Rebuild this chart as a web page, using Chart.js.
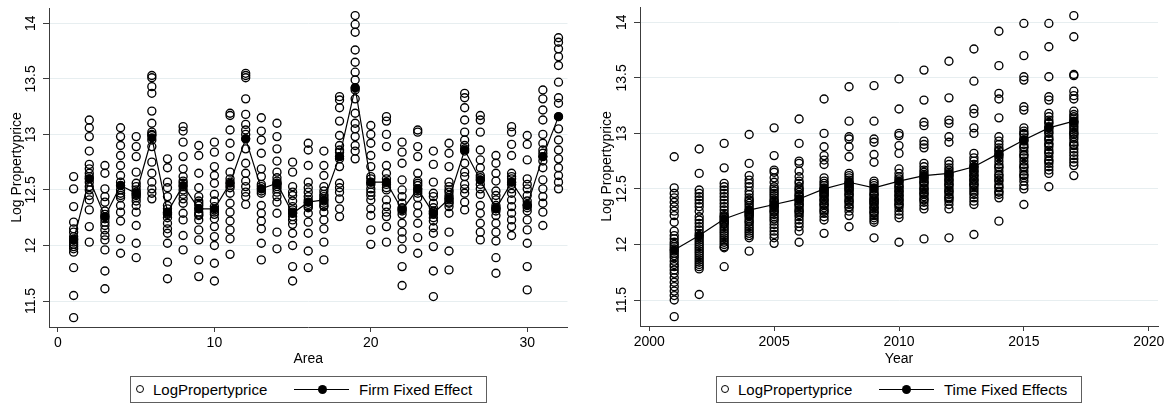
<!DOCTYPE html>
<html>
<head>
<meta charset="utf-8">
<title>Log Propertyprice by Area and Year</title>
<script src="https://cdn.jsdelivr.net/npm/chart.js@4.4.1/dist/chart.umd.min.js"></script>
<style>
  body { margin: 0; background: #fff; width: 1168px; height: 405px; position: relative; overflow: hidden;
         font-family: "Liberation Sans", Arial, Helvetica, sans-serif; }
  canvas { position: absolute; top: 0; }
  #areaChart { left: 0; }
  #yearChart { left: 584px; }
  .legend { position: absolute; top: 376px; height: 27px; box-sizing: border-box; border: 1px solid #5e5e5e;
            font-size: 15px; color: #000; }
  .legend .txt { position: absolute; top: 0; line-height: 25px; white-space: nowrap; }
  .legend .ring { position: absolute; top: 8px; width: 6.4px; height: 6.4px; border: 1.3px solid #000; border-radius: 50%; }
  .legend .seg { position: absolute; top: 12px; height: 1.2px; background: #000; }
  .legend .dot { position: absolute; top: 8px; width: 9px; height: 9px; background: #000; border-radius: 50%; }
</style>
</head>
<body>
<canvas id="areaChart" width="584" height="372"></canvas>
<canvas id="yearChart" width="584" height="372"></canvas>

<div class="legend" style="left:130px; width:357px;">
  <div class="ring" style="left:5px;"></div>
  <div class="txt" style="left:22px;">LogPropertyprice</div>
  <div class="seg" style="left:163px; width:55px;"></div>
  <div class="dot" style="left:187px;"></div>
  <div class="txt" style="left:228px;">Firm Fixed Effect</div>
</div>
<div class="legend" style="left:716px; width:366px;">
  <div class="ring" style="left:4px;"></div>
  <div class="txt" style="left:21px;">LogPropertyprice</div>
  <div class="seg" style="left:162px; width:55px;"></div>
  <div class="dot" style="left:185px;"></div>
  <div class="txt" style="left:227px;">Time Fixed Effects</div>
</div>

<script>
// Categories
const areas = [1, 2, 3, 4, 5, 6, 7, 8, 9, 10, 11, 12, 13, 14, 15, 16,
               17, 18, 19, 20, 21, 22, 23, 24, 25, 26, 27, 28, 29, 30, 31, 32];
const years = [2001, 2002, 2003, 2004, 2005, 2006, 2007, 2008, 2009,
               2010, 2011, 2012, 2013, 2014, 2015, 2016, 2017];

// Log property price observations, one row per area (17 years each)
const areaPrices = [
  [12.62, 12.51, 12.35, 12.21, 12.15, 12.12, 12.08, 12.05, 12.03, 12.01, 11.99, 11.97, 11.94, 11.80, 11.55, 11.35, 12.06],
  [13.13, 13.06, 12.98, 12.85, 12.73, 12.69, 12.65, 12.62, 12.57, 12.53, 12.50, 12.45, 12.41, 12.32, 12.17, 12.03, 12.60],
  [12.72, 12.65, 12.51, 12.44, 12.39, 12.31, 12.28, 12.26, 12.24, 12.21, 12.18, 12.14, 12.09, 12.05, 11.96, 11.77, 11.61],
  [13.06, 12.98, 12.90, 12.81, 12.72, 12.63, 12.57, 12.54, 12.50, 12.47, 12.43, 12.36, 12.30, 12.22, 12.06, 11.93, 12.45],
  [12.98, 12.89, 12.80, 12.66, 12.56, 12.53, 12.50, 12.48, 12.46, 12.43, 12.40, 12.36, 12.30, 12.18, 12.02, 11.89, 12.45],
  [13.53, 13.51, 13.43, 13.37, 13.21, 13.10, 13.02, 12.99, 12.89, 12.75, 12.65, 12.57, 12.51, 12.47, 12.42, 13.00, 12.95],
  [12.78, 12.70, 12.57, 12.52, 12.44, 12.36, 12.33, 12.30, 12.28, 12.25, 12.20, 12.15, 12.11, 12.02, 11.85, 11.70, 12.29],
  [13.07, 13.03, 12.93, 12.80, 12.69, 12.62, 12.56, 12.53, 12.50, 12.46, 12.42, 12.38, 12.29, 12.23, 12.09, 11.96, 12.58],
  [12.90, 12.81, 12.65, 12.52, 12.44, 12.40, 12.36, 12.33, 12.30, 12.27, 12.23, 12.14, 12.05, 11.87, 11.72, 12.38, 12.28],
  [12.93, 12.84, 12.71, 12.63, 12.56, 12.46, 12.40, 12.35, 12.32, 12.30, 12.24, 12.17, 12.08, 12.00, 11.84, 11.68, 12.28],
  [13.19, 13.17, 13.04, 12.92, 12.80, 12.66, 12.60, 12.57, 12.54, 12.52, 12.47, 12.38, 12.30, 12.22, 12.14, 12.06, 11.92],
  [13.55, 13.53, 13.51, 13.32, 13.18, 13.09, 13.04, 13.00, 12.96, 12.87, 12.74, 12.65, 12.58, 12.53, 12.48, 12.44, 12.37],
  [13.15, 13.03, 12.95, 12.83, 12.69, 12.62, 12.55, 12.51, 12.49, 12.47, 12.36, 12.29, 12.22, 12.15, 12.02, 11.87, 12.53],
  [13.10, 12.98, 12.87, 12.76, 12.66, 12.61, 12.58, 12.55, 12.53, 12.51, 12.44, 12.39, 12.29, 12.12, 11.97, 12.56, 12.48],
  [12.75, 12.66, 12.53, 12.45, 12.40, 12.35, 12.32, 12.29, 12.26, 12.23, 12.19, 12.11, 12.00, 11.81, 11.68, 12.48, 12.30],
  [12.92, 12.86, 12.72, 12.57, 12.48, 12.44, 12.41, 12.39, 12.37, 12.34, 12.29, 12.21, 12.11, 11.95, 11.80, 12.52, 12.35],
  [12.85, 12.72, 12.63, 12.53, 12.49, 12.44, 12.42, 12.40, 12.38, 12.35, 12.30, 12.23, 12.15, 12.03, 11.87, 12.46, 12.36],
  [13.34, 13.31, 13.24, 13.12, 12.99, 12.90, 12.84, 12.80, 12.78, 12.71, 12.56, 12.52, 12.48, 12.42, 12.33, 12.26, 12.86],
  [14.07, 13.99, 13.92, 13.76, 13.65, 13.56, 13.49, 13.42, 13.32, 13.19, 13.05, 12.98, 12.90, 12.85, 12.78, 13.40, 13.10],
  [13.08, 13.00, 12.92, 12.81, 12.71, 12.62, 12.57, 12.55, 12.51, 12.48, 12.41, 12.33, 12.27, 12.14, 12.01, 12.60, 12.45],
  [13.16, 13.12, 13.00, 12.89, 12.72, 12.65, 12.60, 12.57, 12.55, 12.50, 12.41, 12.35, 12.30, 12.26, 12.17, 12.03, 12.52],
  [12.93, 12.84, 12.74, 12.59, 12.50, 12.44, 12.38, 12.34, 12.31, 12.28, 12.20, 12.12, 12.06, 11.97, 11.81, 11.64, 12.33],
  [13.04, 13.02, 12.89, 12.80, 12.65, 12.58, 12.54, 12.51, 12.49, 12.43, 12.36, 12.29, 12.20, 12.07, 11.93, 12.56, 12.47],
  [12.85, 12.73, 12.57, 12.44, 12.38, 12.34, 12.31, 12.28, 12.25, 12.22, 12.16, 12.11, 11.99, 11.77, 11.54, 12.47, 12.30],
  [12.92, 12.83, 12.71, 12.57, 12.53, 12.48, 12.45, 12.43, 12.41, 12.38, 12.35, 12.29, 12.12, 11.95, 11.78, 12.50, 12.39],
  [13.37, 13.33, 13.24, 13.13, 13.02, 12.95, 12.90, 12.87, 12.74, 12.66, 12.62, 12.55, 12.51, 12.47, 12.39, 12.32, 12.85],
  [13.17, 13.13, 13.02, 12.86, 12.77, 12.70, 12.63, 12.59, 12.55, 12.51, 12.46, 12.36, 12.29, 12.20, 12.12, 12.05, 12.61],
  [12.81, 12.74, 12.65, 12.49, 12.45, 12.41, 12.36, 12.33, 12.31, 12.27, 12.20, 12.12, 12.04, 11.89, 11.75, 12.58, 12.34],
  [13.07, 13.02, 12.91, 12.81, 12.65, 12.60, 12.57, 12.55, 12.51, 12.47, 12.41, 12.35, 12.29, 12.23, 12.17, 12.09, 12.62],
  [12.99, 12.91, 12.77, 12.60, 12.51, 12.45, 12.40, 12.37, 12.34, 12.31, 12.23, 12.14, 12.02, 11.81, 11.60, 12.55, 12.36],
  [13.40, 13.32, 13.22, 13.13, 13.00, 12.92, 12.86, 12.80, 12.76, 12.70, 12.59, 12.51, 12.44, 12.38, 12.30, 12.18, 12.83],
  [13.87, 13.83, 13.77, 13.70, 13.62, 13.47, 13.33, 13.28, 13.16, 13.05, 12.95, 12.86, 12.78, 12.70, 12.63, 12.57, 12.51]
];
// Firm (area) fixed effect line
const areaEffect = [12.05, 12.60, 12.26, 12.54, 12.47, 12.97, 12.30, 12.54, 12.33, 12.33, 12.56, 12.96, 12.51, 12.56, 12.29, 12.39,
                    12.41, 12.80, 13.42, 12.57, 12.57, 12.32, 12.51, 12.29, 12.42, 12.86, 12.59, 12.33, 12.57, 12.36, 12.80, 13.16];

// Log property price observations, one row per year (32 areas each)
const yearPrices = [
  [12.79, 12.51, 12.46, 12.42, 12.38, 12.34, 12.30, 12.26, 12.20, 12.12, 12.08, 12.05, 12.02, 12.00, 11.98, 11.96,
   11.94, 11.92, 11.90, 11.88, 11.85, 11.82, 11.80, 11.77, 11.74, 11.70, 11.66, 11.62, 11.58, 11.54, 11.50, 11.35],
  [12.86, 12.64, 12.49, 12.46, 12.43, 12.40, 12.37, 12.34, 12.30, 12.25, 12.22, 12.19, 12.16, 12.13, 12.10, 12.08,
   12.06, 12.04, 12.02, 12.00, 11.98, 11.96, 11.94, 11.92, 11.90, 11.88, 11.86, 11.84, 11.82, 11.80, 11.78, 11.55],
  [12.91, 12.69, 12.55, 12.52, 12.49, 12.46, 12.43, 12.40, 12.37, 12.34, 12.31, 12.28, 12.26, 12.24, 12.22, 12.20,
   12.18, 12.16, 12.14, 12.12, 12.10, 12.08, 12.06, 12.04, 12.02, 12.00, 11.98, 12.25, 12.21, 12.19, 11.97, 11.80],
  [12.99, 12.73, 12.62, 12.58, 12.55, 12.52, 12.48, 12.45, 12.42, 12.39, 12.37, 12.35, 12.33, 12.31, 12.29, 12.28,
   12.27, 12.25, 12.23, 12.21, 12.20, 12.18, 12.16, 12.14, 12.12, 12.10, 12.08, 12.06, 12.30, 12.26, 12.40, 11.94],
  [13.05, 12.80, 12.67, 12.65, 12.60, 12.56, 12.52, 12.48, 12.46, 12.44, 12.42, 12.40, 12.38, 12.36, 12.34, 12.33,
   12.31, 12.29, 12.27, 12.25, 12.23, 12.21, 12.18, 12.15, 12.12, 12.09, 12.06, 12.39, 12.35, 12.30, 12.50, 12.01],
  [13.13, 12.91, 12.75, 12.73, 12.66, 12.61, 12.57, 12.52, 12.49, 12.47, 12.45, 12.43, 12.41, 12.39, 12.37, 12.35,
   12.33, 12.31, 12.29, 12.27, 12.25, 12.22, 12.19, 12.16, 12.12, 12.02, 12.40, 12.44, 12.36, 12.30, 12.55, 12.50],
  [13.31, 13.00, 12.88, 12.80, 12.76, 12.72, 12.60, 12.57, 12.55, 12.53, 12.51, 12.49, 12.47, 12.46, 12.45, 12.43,
   12.41, 12.39, 12.37, 12.35, 12.33, 12.31, 12.28, 12.25, 12.22, 12.10, 12.50, 12.48, 12.44, 12.40, 12.36, 12.30],
  [13.42, 13.11, 12.97, 12.95, 12.88, 12.79, 12.64, 12.62, 12.60, 12.58, 12.56, 12.55, 12.54, 12.53, 12.52, 12.50,
   12.48, 12.46, 12.44, 12.42, 12.40, 12.38, 12.36, 12.33, 12.30, 12.26, 12.16, 12.51, 12.49, 12.45, 12.39, 12.34],
  [13.43, 13.11, 12.95, 12.92, 12.81, 12.74, 12.57, 12.53, 12.50, 12.48, 12.46, 12.44, 12.42, 12.40, 12.38, 12.36,
   12.34, 12.32, 12.30, 12.28, 12.26, 12.24, 12.22, 12.20, 12.06, 12.45, 12.41, 12.37, 12.33, 12.29, 12.55, 12.39],
  [13.49, 13.22, 13.00, 12.98, 12.89, 12.82, 12.68, 12.64, 12.61, 12.59, 12.57, 12.55, 12.53, 12.51, 12.49, 12.47,
   12.45, 12.43, 12.41, 12.39, 12.37, 12.35, 12.33, 12.30, 12.27, 12.24, 12.02, 12.52, 12.48, 12.44, 12.40, 12.36],
  [13.57, 13.30, 13.10, 13.07, 12.93, 12.90, 12.87, 12.73, 12.70, 12.67, 12.65, 12.63, 12.61, 12.59, 12.57, 12.55,
   12.53, 12.51, 12.49, 12.47, 12.45, 12.43, 12.41, 12.38, 12.35, 12.32, 12.05, 12.60, 12.56, 12.50, 12.46, 12.40],
  [13.65, 13.32, 13.12, 13.09, 12.97, 12.92, 12.75, 12.72, 12.69, 12.67, 12.65, 12.63, 12.61, 12.59, 12.57, 12.55,
   12.53, 12.51, 12.49, 12.47, 12.45, 12.43, 12.41, 12.39, 12.36, 12.32, 12.06, 12.62, 12.58, 12.54, 12.48, 12.42],
  [13.76, 13.47, 13.22, 13.18, 13.05, 13.00, 12.82, 12.78, 12.75, 12.72, 12.69, 12.67, 12.65, 12.63, 12.61, 12.59,
   12.57, 12.55, 12.53, 12.51, 12.49, 12.47, 12.45, 12.42, 12.39, 12.36, 12.09, 12.70, 12.66, 12.62, 12.58, 12.54],
  [13.92, 13.61, 13.36, 13.31, 13.14, 12.97, 12.93, 12.90, 12.87, 12.84, 12.81, 12.78, 12.75, 12.72, 12.69, 12.66,
   12.63, 12.60, 12.57, 12.54, 12.51, 12.48, 12.45, 12.42, 12.21, 12.85, 12.80, 12.70, 12.62, 12.58, 12.52, 12.47],
  [13.99, 13.70, 13.51, 13.48, 13.24, 13.21, 13.05, 13.02, 12.99, 12.96, 12.93, 12.90, 12.87, 12.84, 12.81, 12.78,
   12.75, 12.72, 12.69, 12.66, 12.63, 12.60, 12.57, 12.53, 12.50, 12.36, 13.00, 12.94, 12.88, 12.80, 12.70, 12.62],
  [13.99, 13.78, 13.51, 13.33, 13.30, 13.18, 13.15, 13.12, 13.09, 13.06, 13.03, 13.00, 12.97, 12.94, 12.91, 12.88,
   12.85, 12.82, 12.79, 12.76, 12.73, 12.70, 12.67, 12.64, 12.52, 13.10, 13.05, 13.01, 12.95, 12.90, 12.83, 12.75],
  [14.06, 13.87, 13.53, 13.52, 13.38, 13.34, 13.31, 13.20, 13.17, 13.15, 13.13, 13.11, 13.09, 13.07, 13.05, 13.03,
   13.01, 12.99, 12.97, 12.95, 12.92, 12.89, 12.86, 12.83, 12.80, 12.77, 12.74, 12.71, 12.62, 13.10, 13.00, 12.90]
];
// Time fixed effects line
const yearEffect = [11.95, 12.08, 12.23, 12.31, 12.36, 12.41, 12.50, 12.56, 12.51,
                    12.57, 12.62, 12.64, 12.70, 12.82, 12.94, 13.05, 13.11];

// Tick labels
const yTicks = [11.5, 12, 12.5, 13, 13.5, 14];
const areaTicks = [0, 10, 20, 30];
const yearTicks = [2000, 2005, 2010, 2015, 2020];

const FONT = '"Liberation Sans", Arial, Helvetica, sans-serif';
const AXIS = '#3c3c3c';
const GRID = '#e7eef0';

// Stata draws the y labels turned a quarter round, so we paint them ourselves
const rotatedYLabels = {
    id: 'rotatedYLabels',
    afterDraw(chart) {
        const ctx = chart.ctx;
        const yScale = chart.scales.y;
        ctx.save();
        ctx.font = '14px ' + FONT;
        ctx.fillStyle = '#000';
        ctx.textAlign = 'center';
        ctx.textBaseline = 'middle';
        yTicks.forEach(v => {
            ctx.save();
            ctx.translate(chart.chartArea.left - 17.5, yScale.getPixelForValue(v));
            ctx.rotate(-Math.PI / 2);
            ctx.fillText(String(v), 0, 0);
            ctx.restore();
        });
        ctx.restore();
    }
};

function makePanel(id, cats, groups, effect, xTicks, xTitle, xMin, xMax, opts) {
    // flatten the groups into scatter points
    const points = [];
    groups.forEach((row, i) => row.forEach(v => points.push({ x: cats[i], y: v })));
    const line = effect.map((v, i) => ({ x: cats[i], y: v }));

    return new Chart(document.getElementById(id), {
        type: 'scatter',
        data: {
            datasets: [
                {
                    label: xTitle === 'Area' ? 'Firm Fixed Effect' : 'Time Fixed Effects',
                    data: line,
                    showLine: true,
                    borderColor: '#000',
                    borderWidth: 1.2,
                    backgroundColor: '#000',
                    pointRadius: 4.5,
                    pointBorderWidth: 0,
                    order: 0
                },
                {
                    label: 'LogPropertyprice',
                    data: points,
                    borderColor: '#000',
                    backgroundColor: 'rgba(0,0,0,0)',
                    pointRadius: 4,
                    pointBorderWidth: 1.35,
                    order: 1
                }
            ]
        },
        options: {
            responsive: false,
            animation: false,
            events: [],
            layout: { padding: { left: 0, right: opts.padRight, top: opts.padTop, bottom: 0 } },
            plugins: { legend: { display: false }, tooltip: { enabled: false } },
            scales: {
                x: {
                    type: 'linear',
                    min: xMin,
                    max: xMax,
                    afterBuildTicks: s => { s.ticks = xTicks.map(v => ({ value: v })); },
                    afterFit: s => { s.height = opts.xHeight; },
                    grid: { drawOnChartArea: false, drawTicks: true, tickLength: 5, tickColor: AXIS, tickWidth: 1 },
                    border: { display: true, color: AXIS, width: 1 },
                    ticks: { color: '#000', font: { family: FONT, size: 14 }, padding: 3, maxRotation: 0,
                             callback: v => String(v) },
                    title: { display: true, text: xTitle, color: '#000', font: { family: FONT, size: 14 },
                             padding: { top: 0, bottom: 4 } }
                },
                y: {
                    type: 'linear',
                    min: 11.266,
                    max: 14.138,
                    afterBuildTicks: s => { s.ticks = yTicks.map(v => ({ value: v })); },
                    afterFit: s => { s.width = opts.yWidth; },
                    grid: { color: GRID, lineWidth: 1, drawTicks: true, tickLength: 6, tickColor: AXIS, tickWidth: 1 },
                    border: { display: true, color: AXIS, width: 1 },
                    ticks: { display: false },
                    title: { display: true, text: 'Log Propertyprice', color: '#000', font: { family: FONT, size: 14 },
                             padding: { top: opts.titlePad, bottom: 0 } }
                }
            }
        },
        plugins: [rotatedYLabels]
    });
}

makePanel('areaChart', areas, areaPrices, areaEffect, areaTicks, 'Area', -0.575, 32.575,
          { padRight: 16.5, padTop: 8, xHeight: 45, yWidth: 49, titlePad: 8.5 });
makePanel('yearChart', years, yearPrices, yearEffect, yearTicks, 'Year', 1999.63, 2020.37,
          { padRight: 10, padTop: 7, xHeight: 46, yWidth: 56, titlePad: 14.5 });
</script>
</body>
</html>
